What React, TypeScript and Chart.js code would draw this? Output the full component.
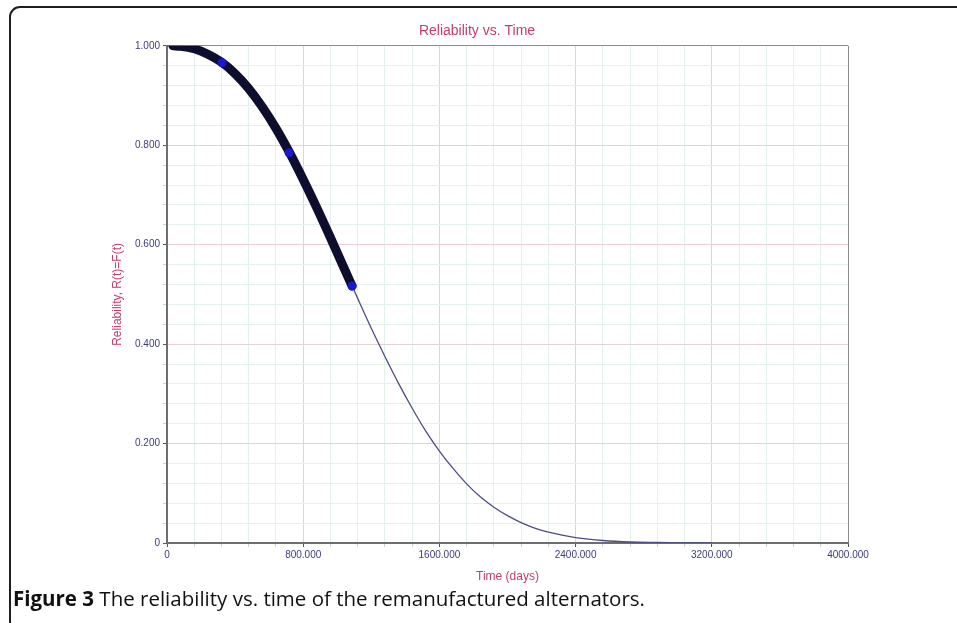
import React, { useEffect, useRef } from "react";
import { Chart, registerables } from "chart.js";

Chart.register(...registerables);

// Fitted reliability curve (thin line)
const fitTimes = [0, 80, 160, 240, 320, 400, 480, 560, 640, 720, 800, 880, 960, 1040, 1120, 1200, 1280, 1360, 1440, 1520, 1600, 1680, 1760, 1840, 1920, 2000, 2080, 2160, 2240, 2320, 2400, 2560, 2720, 2880, 3040, 3200];
const fitReliability = [1.0, 0.999, 0.994, 0.983, 0.967, 0.944, 0.914, 0.877, 0.834, 0.785, 0.731, 0.674, 0.614, 0.553, 0.492, 0.432, 0.375, 0.321, 0.271, 0.225, 0.185, 0.15, 0.119, 0.093, 0.072, 0.055, 0.041, 0.03, 0.022, 0.016, 0.011, 0.005, 0.002, 0.001, 0.0003, 0.0001];

// Observed data band (thick black points)
const dataTimes = [35, 80, 160, 240, 320, 400, 480, 560, 640, 720, 800, 880, 960, 1040, 1087];
const dataReliability = [1.0, 0.999, 0.994, 0.983, 0.967, 0.944, 0.914, 0.877, 0.834, 0.785, 0.731, 0.674, 0.614, 0.553, 0.517];

// Highlighted (blue) points
const markerTimes = [323, 717, 1087];
const markerReliability = [0.966, 0.785, 0.517];

const xMin = 0;
const xMax = 4000;
const xMinorStep = 160;
const xMajorStep = 800;
const yMin = 0;
const yMax = 1;
const yMinorStep = 0.04;
const yMajorStep = 0.2;

const titleText = "Reliability vs. Time";
const xTitle = "Time (days)";
const yTitle = "Reliability, R(t)=F(t)";

const toPoints = (xs: number[], ys: number[]) => xs.map((x, i) => ({ x, y: ys[i] }));

const isMultiple = (v: number, step: number) => {
  const r = v / step;
  return Math.abs(r - Math.round(r)) < 1e-6;
};

export default function App() {
  const canvasRef = useRef<HTMLCanvasElement | null>(null);

  useEffect(() => {
    if (!canvasRef.current) return;
    const tickFont = { family: "'Liberation Sans', Arial, sans-serif", size: 10 };
    const titleColor = "#c33d6b";
    const tickColor = "#3c3c7a";
    const majorGrid = "#e8cfd3";
    const minorGrid = "#e2f2ea";
    const edgeGrid = "#8c8c8c";

    const chart = new Chart(canvasRef.current, {
      type: "scatter",
      data: {
        datasets: [
          {
            label: "markers",
            data: toPoints(markerTimes, markerReliability),
            showLine: false,
            pointRadius: 4.5,
            pointBackgroundColor: "#1818d2",
            pointBorderWidth: 0,
            order: 0,
          },
          {
            label: "data",
            data: toPoints(dataTimes, dataReliability),
            showLine: true,
            borderColor: "#0d0d2e",
            borderWidth: 9,
            borderCapStyle: "round",
            borderJoinStyle: "round",
            cubicInterpolationMode: "monotone",
            pointRadius: 0,
            order: 1,
          },
          {
            label: "fit",
            data: toPoints(fitTimes, fitReliability),
            showLine: true,
            borderColor: "#4d4d88",
            borderWidth: 1.3,
            cubicInterpolationMode: "monotone",
            pointRadius: 0,
            order: 2,
          },
        ],
      },
      options: {
        responsive: false,
        animation: false,
        layout: { padding: { left: 106, right: 109, top: 0, bottom: 35 } },
        plugins: {
          legend: { display: false },
          tooltip: { enabled: false },
          title: {
            display: true,
            text: titleText,
            color: titleColor,
            font: { family: "'Liberation Sans', Arial, sans-serif", size: 14, weight: "normal" },
            padding: { top: 23, bottom: 6 },
          },
        },
        scales: {
          x: {
            type: "linear",
            min: xMin,
            max: xMax,
            afterFit: (scale: any) => {
              scale.height = 45;
            },
            ticks: {
              stepSize: xMinorStep,
              autoSkip: false,
              maxRotation: 0,
              minRotation: 0,
              padding: 2,
              color: tickColor,
              font: tickFont,
              callback: (v: any) => {
                const n = Number(v);
                if (!isMultiple(n, xMajorStep)) return "";
                return n === 0 ? "0" : n.toFixed(3);
              },
            },
            grid: {
              tickLength: 4,
              color: (ctx: any) => {
                const v = ctx.tick ? ctx.tick.value : 0;
                if (v === xMax) return edgeGrid;
                return isMultiple(v, xMajorStep) ? majorGrid : minorGrid;
              },
              tickColor: (ctx: any) => {
                const v = ctx.tick ? ctx.tick.value : 0;
                return isMultiple(v, xMajorStep) ? "#555" : "rgba(120,120,120,0.35)";
              },
            },
            border: { color: "#6e6e6e", width: 2 },
            title: {
              display: true,
              text: xTitle,
              color: titleColor,
              font: { family: "'Liberation Sans', Arial, sans-serif", size: 12 },
              padding: { top: 4, bottom: 4 },
            },
          },
          y: {
            type: "linear",
            min: yMin,
            max: yMax,
            afterFit: (scale: any) => {
              scale.width = 61;
            },
            ticks: {
              stepSize: yMinorStep,
              autoSkip: false,
              padding: 3,
              color: tickColor,
              font: tickFont,
              callback: (v: any) => {
                const n = Number(v);
                if (!isMultiple(n, yMajorStep)) return "";
                return Math.abs(n) < 1e-9 ? "0" : n.toFixed(3);
              },
            },
            grid: {
              tickLength: 4,
              color: (ctx: any) => {
                const v = ctx.tick ? ctx.tick.value : 0;
                if (Math.abs(v - yMax) < 1e-6) return edgeGrid;
                return isMultiple(v, yMajorStep) ? majorGrid : minorGrid;
              },
              tickColor: (ctx: any) => {
                const v = ctx.tick ? ctx.tick.value : 0;
                return isMultiple(v, yMajorStep) ? "#555" : "rgba(120,120,120,0.35)";
              },
            },
            border: { color: "#6e6e6e", width: 2 },
            title: {
              display: true,
              text: yTitle,
              color: titleColor,
              font: { family: "'Liberation Sans', Arial, sans-serif", size: 12 },
              padding: { top: 4, bottom: 4 },
            },
          },
        },
      },
    } as any);

    return () => chart.destroy();
  }, []);

  return (
    <div
      style={{
        position: "fixed",
        left: 0,
        top: 0,
        width: 957,
        height: 623,
        overflow: "hidden",
        background: "#ffffff",
      }}
    >
      <div
        style={{
          position: "absolute",
          left: 9,
          top: 6,
          width: 1000,
          height: 626,
          border: "2px solid #1e1e1e",
          borderRadius: 11,
          boxSizing: "border-box",
        }}
      />
      <canvas
        ref={canvasRef}
        width={957}
        height={623}
        style={{ position: "absolute", left: 0, top: 0, width: 957, height: 623 }}
      />
      <div
        style={{
          position: "absolute",
          left: 13,
          top: 585,
          fontFamily: "'Open Sans', 'Noto Sans', sans-serif",
          fontSize: 20.5,
          color: "#111",
          whiteSpace: "nowrap",
          lineHeight: "26px",
        }}
      >
        <b>Figure 3</b> The reliability vs. time of the remanufactured alternators.
      </div>
    </div>
  );
}
